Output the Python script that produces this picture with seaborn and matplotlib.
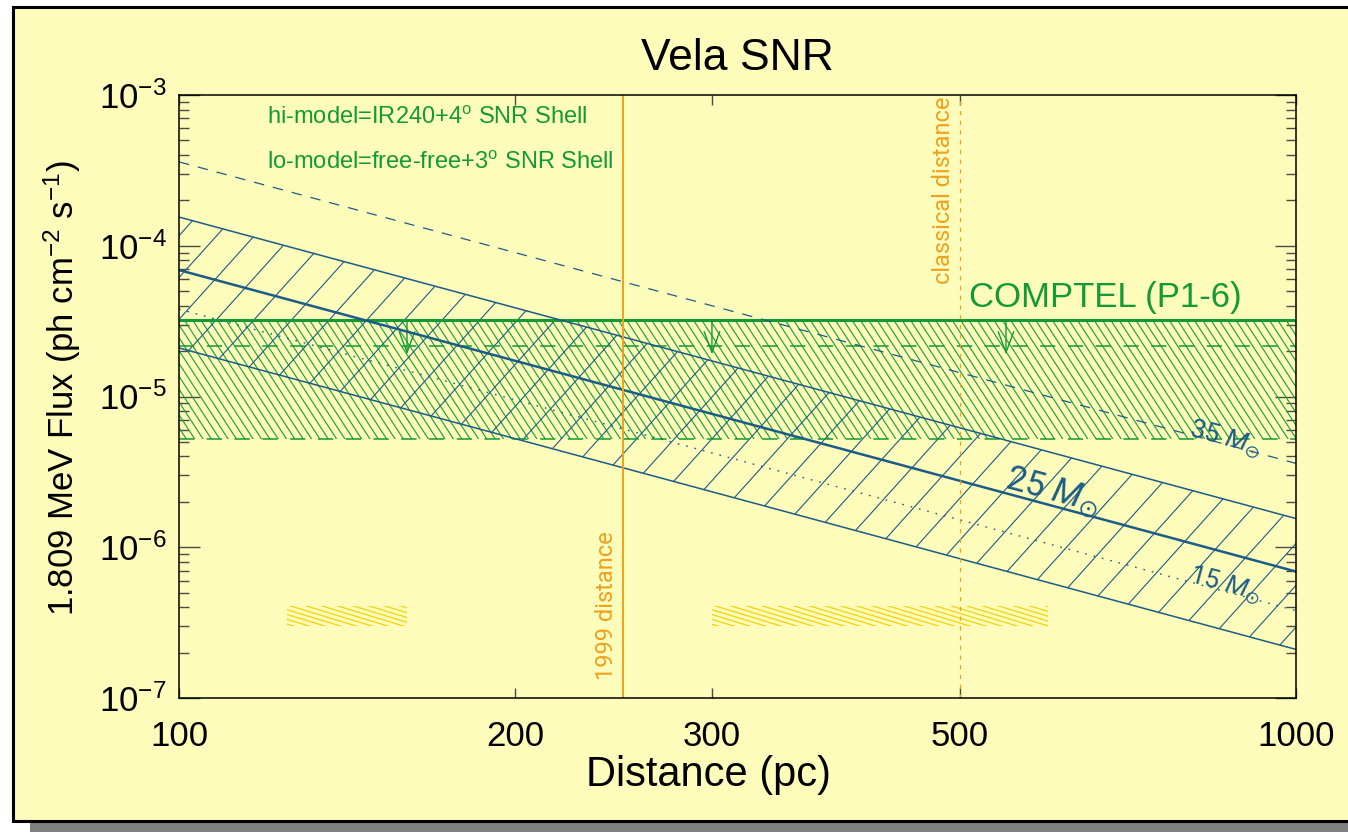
import numpy as np
import matplotlib
matplotlib.use("Agg")
import matplotlib.pyplot as plt
import seaborn as sns
from matplotlib.collections import LineCollection
from matplotlib.patches import Rectangle
from matplotlib.ticker import FixedLocator, NullLocator, LogLocator, FuncFormatter

# ---- data -------------------------------------------------------------
# model 26Al line flux (ph cm^-2 s^-1) at the ends of the distance axis (pc)
distance = [100, 1000]
flux_35 = [3.6e-4, 3.6e-6]      # 35 Msun progenitor
flux_hi = [1.55e-4, 1.55e-6]    # 25 Msun, hi-model
flux_25 = [6.9e-5, 6.9e-7]      # 25 Msun
flux_15 = [3.8e-5, 3.8e-7]      # 15 Msun
flux_lo = [2.1e-5, 2.1e-7]      # 25 Msun, lo-model

# COMPTEL (P1-6) measurement / upper limits
comptel_upper = 3.2e-5
comptel_mid = 2.17e-5
comptel_lower = 5.2e-6
limit_arrow_x = [160, 300, 550]
limit_arrow_tip = 1.9e-5

# distance estimate ranges (pc)
distance_ranges = [(125, 160), (300, 600)]
range_flux = (3.0e-7, 4.1e-7)

dist_1999 = 250
dist_classical = 500

x_ticks = [100, 200, 300, 500, 1000]
x_tick_labels = ["100", "200", "300", "500", "1000"]
y_ticks = [1e-7, 1e-6, 1e-5, 1e-4, 1e-3]

# ---- style ------------------------------------------------------------
BG = "#FDFCBB"
BLUE = "#1C5C86"
GREEN = "#149A35"
HATCH_GREEN = "#23A03E"
ORANGE = "#EFA11E"
GOLD = "#F2D20A"

sns.set_theme(style="ticks")
plt.rcParams["font.family"] = ["Liberation Sans", "DejaVu Sans"]
plt.rcParams["text.color"] = "black"
plt.rcParams["axes.labelcolor"] = "black"
plt.rcParams["mathtext.fontset"] = "custom"
plt.rcParams["mathtext.rm"] = "Liberation Sans"
plt.rcParams["mathtext.it"] = "Roboto:italic"
plt.rcParams["mathtext.default"] = "regular"
plt.rcParams["lines.scale_dashes"] = False

W_PX, H_PX = 1348, 832
fig = plt.figure(figsize=(W_PX / 100, H_PX / 100), dpi=100, facecolor="white")

# page background with drop shadow
fig.add_artist(Rectangle((30 / W_PX, 0), 1.2, (H_PX - 17) / H_PX,
                         transform=fig.transFigure, facecolor="#808080",
                         edgecolor="none", zorder=-20))
fig.add_artist(Rectangle((13 / W_PX, 11 / H_PX), 1.2, (H_PX - 18) / H_PX,
                         transform=fig.transFigure, facecolor=BG,
                         edgecolor="black", linewidth=2.2, zorder=-10))

ax = fig.add_axes([179 / W_PX, (H_PX - 698) / H_PX, 1117 / W_PX, 603 / H_PX])
ax.set_facecolor(BG)
ax.set_xscale("log")
ax.set_yscale("log")
ax.set_xlim(100, 1000)
ax.set_ylim(1e-7, 1e-3)


def hatch_region(region, angle, spacing, color, lw, zorder):
    """Fill a region with parallel lines (angle in degrees, spacing in px)."""
    w, h = ax.bbox.width, ax.bbox.height
    a = np.deg2rad(angle)
    d = np.array([np.cos(a), np.sin(a)])
    n = np.array([-np.sin(a), np.cos(a)])
    L = np.hypot(w, h)
    centre = np.array([w / 2, h / 2])
    segs = []
    for o in np.arange(-L, L, spacing):
        c = centre + o * n
        p0, p1 = c - L * d, c + L * d
        segs.append([(p0[0] / w, p0[1] / h), (p1[0] / w, p1[1] / h)])
    lc = LineCollection(segs, transform=ax.transAxes, colors=color,
                        linewidths=lw, zorder=zorder)
    lc.set_clip_path(region.get_paths()[0], ax.transData)
    ax.add_collection(lc, autolim=False)


# COMPTEL band
band = ax.fill_between(distance, comptel_lower, comptel_upper,
                       facecolor="none", edgecolor="none")
hatch_region(band, -57, 7.0, HATCH_GREEN, 0.85, 1)

# model band between lo- and hi-model
model_band = ax.fill_between(distance, flux_lo, flux_hi,
                             facecolor="none", edgecolor="none")
hatch_region(model_band, 48, 28.0, BLUE, 0.8, 2)

# distance estimate ranges
for lo_d, hi_d in distance_ranges:
    r = ax.fill_between([lo_d, hi_d], range_flux[0], range_flux[1],
                        facecolor="none", edgecolor="none")
    hatch_region(r, -17, 4.6, GOLD, 0.9, 1)

# COMPTEL lines
ax.axhline(comptel_upper, color=GREEN, lw=2.2, zorder=3)
ax.axhline(comptel_mid, color=GREEN, lw=1.1, dashes=(11, 9), zorder=3)
ax.axhline(comptel_lower, color=GREEN, lw=1.1, dashes=(11, 9), zorder=3)
for xa in limit_arrow_x:
    ax.annotate("", xy=(xa, limit_arrow_tip), xytext=(xa, comptel_upper),
                arrowprops=dict(arrowstyle="->,head_length=0.75,head_width=0.28",
                                color=GREEN, lw=1.0, shrinkA=0, shrinkB=0,
                                mutation_scale=20), zorder=3)

# model lines
sns.lineplot(x=distance, y=flux_hi, ax=ax, color=BLUE, lw=1.1, zorder=4)
sns.lineplot(x=distance, y=flux_lo, ax=ax, color=BLUE, lw=1.1, zorder=4)
sns.lineplot(x=distance, y=flux_25, ax=ax, color=BLUE, lw=1.8, zorder=4)
sns.lineplot(x=distance, y=flux_35, ax=ax, color=BLUE, lw=0.9,
             dashes=False, zorder=4)
sns.lineplot(x=distance, y=flux_15, ax=ax, color=BLUE, lw=1.0,
             dashes=False, zorder=4)
ax.lines[-2].set_dashes((7.5, 6.5))
ax.lines[-1].set_dashes((1.2, 5.0))

# distance markers
ax.axvline(dist_1999, color=ORANGE, lw=1.4, zorder=5)
ax.axvline(dist_classical, color=ORANGE, lw=0.9, dashes=(3, 4), zorder=5)

thin = dict(family=["Roboto", "DejaVu Sans"], fontweight="normal")
ax.text(241.6, 1.32e-7, "1999 distance", rotation=90, ha="center",
        va="bottom", color=ORANGE, fontsize=17, **thin)
ax.text(484, 9.7e-4, "classical distance", rotation=90, ha="center",
        va="top", color=ORANGE, fontsize=17, **thin)

# mass labels along the model lines
slope_angle = -np.degrees(np.arctan(2 * 150.75 / 1117))
for xl, yl, txt, fs in [(864, 5.2e-6, "35", 19), (605, 2.32e-6, "25", 25),
                        (864, 5.6e-7, "15", 19)]:
    ax.text(xl, yl, txt + r" $\mathit{M}_{\odot}$", rotation=slope_angle,
            rotation_mode="anchor", ha="center", va="center", color=BLUE,
            fontsize=fs, zorder=6, **thin)

ax.text(510, 4.52e-5, "COMPTEL (P1-6)", ha="left", va="center",
        color=GREEN, fontsize=25, zorder=6)
ax.text(0.0788, 0.962, r"hi-model=IR240+4$^{\rm o}$ SNR Shell",
        transform=ax.transAxes, ha="left", va="center", color=GREEN,
        fontsize=17)
ax.text(0.0788, 0.887, r"lo-model=free-free+3$^{\rm o}$ SNR Shell",
        transform=ax.transAxes, ha="left", va="center", color=GREEN,
        fontsize=17)

# axes, ticks and labels
ax.xaxis.set_major_locator(FixedLocator(x_ticks))
ax.xaxis.set_minor_locator(NullLocator())
ax.set_xticklabels(x_tick_labels)
ax.yaxis.set_major_locator(FixedLocator(y_ticks))
ax.yaxis.set_minor_locator(LogLocator(base=10, subs=np.arange(2, 10)))
ax.yaxis.set_major_formatter(
    FuncFormatter(lambda v, p: r"$10^{%d}$" % int(round(np.log10(v)))))
ax.yaxis.set_minor_formatter(FuncFormatter(lambda v, p: ""))

ax.tick_params(axis="x", which="major", direction="in", length=7, width=1.0,
               color="#4a4a40", top=True, bottom=True, labelsize=25, pad=16,
               labelcolor="black")
ax.tick_params(axis="y", which="major", direction="in", length=15, width=1.0,
               color="#4a4a40", left=True, right=True, labelsize=25, pad=9,
               labelcolor="black")
ax.tick_params(axis="y", which="minor", direction="in", length=7, width=1.0,
               color="#4a4a40", left=True, right=True)
for s in ax.spines.values():
    s.set_color("black")
    s.set_linewidth(1.1)
    s.set_zorder(10)

ax.set_xlabel("Distance (pc)", fontsize=30, color="black")
ax.xaxis.label.set_va("center")
ax.xaxis.set_label_coords((709 - 179) / 1117, (698 - 775) / 603)
ax.set_ylabel(r"1.809 MeV Flux (ph cm$^{-2}$ s$^{-1}$)", fontsize=25,
              color="black")
ax.yaxis.label.set_va("center")
ax.yaxis.set_label_coords((62 - 179) / 1117, (698 - 388) / 603)
ax.set_title("Vela SNR", fontsize=32, color="black", pad=0,
             y=(698 - 58) / 603, va="center")

fig.savefig("out.png", dpi=100, facecolor="white")
